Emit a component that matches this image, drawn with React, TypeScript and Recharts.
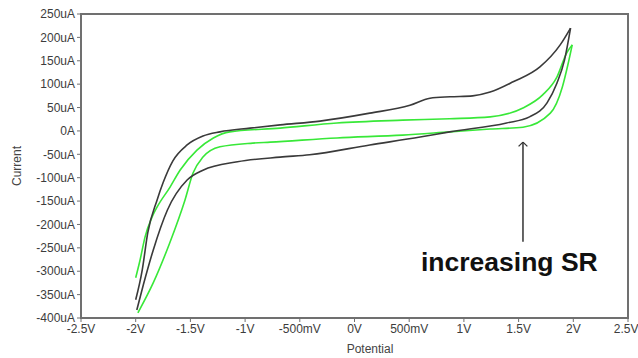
import React from 'react';
import {
  LineChart,
  Line,
  XAxis,
  YAxis,
  ReferenceArea,
  ReferenceLine,
} from 'recharts';

// potential (V) vs current (uA), each branch sorted by potential
const blackAnodic = [
  { v: -2.0, i: -361 }, { v: -1.94, i: -297 }, { v: -1.89, i: -218 }, { v: -1.805, i: -148 },
  { v: -1.75, i: -111 }, { v: -1.66, i: -64 }, { v: -1.53, i: -30 }, { v: -1.385, i: -11 },
  { v: -1.23, i: -2 }, { v: -0.955, i: 6 }, { v: -0.68, i: 13 }, { v: -0.315, i: 21 },
  { v: 0.14, i: 38 }, { v: 0.507, i: 55 }, { v: 0.69, i: 70 }, { v: 0.873, i: 73 },
  { v: 1.08, i: 75 }, { v: 1.24, i: 83 }, { v: 1.45, i: 105 }, { v: 1.695, i: 137 },
  { v: 1.88, i: 184 }, { v: 1.975, i: 220 },
];

const blackCathodic = [
  { v: -1.99, i: -383 }, { v: -1.93, i: -329 }, { v: -1.84, i: -255 }, { v: -1.71, i: -169 },
  { v: -1.53, i: -105 }, { v: -1.385, i: -84 }, { v: -1.07, i: -66 }, { v: -0.68, i: -56 },
  { v: -0.41, i: -51 }, { v: 0.14, i: -30 }, { v: 0.6, i: -13 }, { v: 0.87, i: -2 },
  { v: 1.39, i: 17 }, { v: 1.6, i: 30 }, { v: 1.76, i: 60 }, { v: 1.85, i: 102 },
  { v: 1.92, i: 152 }, { v: 1.975, i: 220 },
];

const greenAnodic = [
  { v: -2.0, i: -314 }, { v: -1.96, i: -276 }, { v: -1.915, i: -227 }, { v: -1.85, i: -184 },
  { v: -1.805, i: -163 }, { v: -1.686, i: -120 }, { v: -1.595, i: -84 }, { v: -1.44, i: -41 },
  { v: -1.29, i: -15 }, { v: -1.14, i: -2 }, { v: -0.68, i: 6 }, { v: -0.16, i: 17 },
  { v: 0.44, i: 23 }, { v: 0.87, i: 26 }, { v: 1.24, i: 30 }, { v: 1.54, i: 49 },
  { v: 1.72, i: 77 }, { v: 1.85, i: 115 }, { v: 1.94, i: 167 }, { v: 1.99, i: 184 },
];

const greenCathodic = [
  { v: -1.98, i: -389 }, { v: -1.84, i: -325 }, { v: -1.69, i: -240 }, { v: -1.55, i: -148 },
  { v: -1.476, i: -90 }, { v: -1.385, i: -56 }, { v: -1.23, i: -34 }, { v: -0.93, i: -26 },
  { v: -0.77, i: -24 }, { v: -0.16, i: -15 }, { v: 0.44, i: -9 }, { v: 0.87, i: -2 },
  { v: 1.24, i: 4 }, { v: 1.54, i: 8 }, { v: 1.79, i: 38 }, { v: 1.9, i: 94 },
  { v: 1.95, i: 141 }, { v: 1.99, i: 184 },
];

const potentialTicks = [-2.5, -2, -1.5, -1, -0.5, 0, 0.5, 1, 1.5, 2, 2.5];
const currentTicks = [250, 200, 150, 100, 50, 0, -50, -100, -150, -200, -250, -300, -350, -400];

const arrowAt = 1.54;
const arrowFrom = -237;
const arrowTo = -24;

const fmtV = (v: number) => {
  if (v === 0) return '0V';
  if (Math.abs(v) < 1) return `${Math.round(v * 1000)}mV`;
  return `${v}V`;
};
const fmtA = (v: number) => (v === 0 ? '0A' : `${v}uA`);

const FRAME = '#707070';
const BLACK = '#3a3a3a';
const GREEN = '#38e838';
const tickStyle = { fill: '#3c3c3c', fontSize: 12, fontFamily: 'Liberation Sans, Arial, sans-serif' };

export default function App() {
  return (
    <div style={{ position: 'absolute', left: 0, top: 0, width: 638, height: 358, background: '#fff' }}>
      <LineChart width={638} height={358} margin={{ top: 14, right: 10, bottom: 0, left: 0 }}>
        <XAxis
          type="number"
          dataKey="v"
          domain={[-2.5, 2.5]}
          ticks={potentialTicks}
          tickFormatter={fmtV}
          axisLine={false}
          tickLine={{ stroke: FRAME }}
          tickSize={4}
          tick={tickStyle}
          height={40}
          allowDataOverflow
        />
        <YAxis
          type="number"
          dataKey="i"
          domain={[-400, 250]}
          ticks={currentTicks}
          tickFormatter={fmtA}
          axisLine={false}
          tickLine={{ stroke: FRAME }}
          tickSize={4}
          tick={tickStyle}
          width={81}
          allowDataOverflow
        />
        <ReferenceArea
          x1={-2.5}
          x2={2.5}
          y1={-400}
          y2={250}
          fill="none"
          stroke={FRAME}
          strokeWidth={2}
          ifOverflow="visible"
        />
        <Line data={greenAnodic} dataKey="i" type="monotone" stroke={GREEN} strokeWidth={1.6} dot={false} isAnimationActive={false} />
        <Line data={greenCathodic} dataKey="i" type="monotone" stroke={GREEN} strokeWidth={1.6} dot={false} isAnimationActive={false} />
        <Line data={blackAnodic} dataKey="i" type="monotone" stroke={BLACK} strokeWidth={1.6} dot={false} isAnimationActive={false} />
        <Line data={blackCathodic} dataKey="i" type="monotone" stroke={BLACK} strokeWidth={1.6} dot={false} isAnimationActive={false} />
        {/* arrow pointing at the curves */}
        <ReferenceLine segment={[{ x: arrowAt, y: arrowFrom }, { x: arrowAt, y: arrowTo }]} stroke="#333" strokeWidth={1.5} />
        <ReferenceLine segment={[{ x: arrowAt - 0.04, y: arrowTo - 9 }, { x: arrowAt, y: arrowTo }]} stroke="#333" strokeWidth={1.3} />
        <ReferenceLine segment={[{ x: arrowAt + 0.04, y: arrowTo - 9 }, { x: arrowAt, y: arrowTo }]} stroke="#333" strokeWidth={1.3} />
      </LineChart>
      <svg
        width={638}
        height={358}
        style={{ position: 'absolute', left: 0, top: 0, pointerEvents: 'none' }}
      >
        <text
          x={17}
          y={166}
          transform="rotate(-90 17 166)"
          textAnchor="middle"
          dominantBaseline="central"
          fontSize={12}
          fontFamily="Liberation Sans, Arial, sans-serif"
          fill="#444"
        >
          Current
        </text>
        <text
          x={370}
          y={349}
          textAnchor="middle"
          dominantBaseline="central"
          fontSize={12}
          fontFamily="Liberation Sans, Arial, sans-serif"
          fill="#444"
        >
          Potential
        </text>
        <text
          x={421}
          y={271}
          fontSize={26.5}
          fontWeight="bold"
          fontFamily="Liberation Sans, Arial, sans-serif"
          fill="#111"
        >
          increasing SR
        </text>
      </svg>
    </div>
  );
}
